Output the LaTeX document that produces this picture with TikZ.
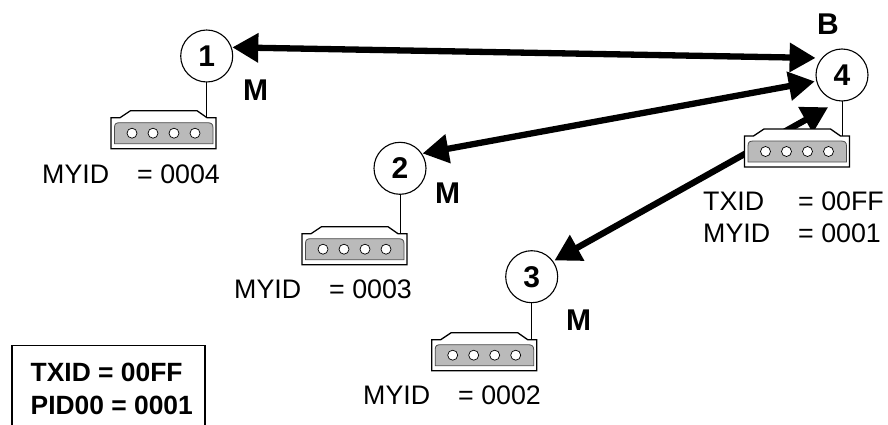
\documentclass[tikz,border=0pt]{standalone}
\usepackage{fontspec}
\setmainfont{Liberation Sans}
\usetikzlibrary{arrows.meta}
\newcommand{\idlabel}[2]{\makebox[95pt][l]{#1}= #2}
\tikzset{
  hub/.style={circle,draw=black,line width=1.1pt,fill=white,minimum size=52pt,inner sep=0pt,font=\fontsize{30}{30}\selectfont\bfseries},
  role/.style={anchor=base west,inner sep=0pt,font=\fontsize{30}{30}\selectfont\bfseries},
  idtext/.style={anchor=base west,inner sep=0pt,font=\fontsize{26.8}{32}\selectfont,align=left},
  boxtext/.style={anchor=base west,inner sep=0pt,font=\fontsize{26.4}{32}\selectfont\bfseries,align=left},
  link/.style={line width=6.3pt,{Triangle[length=26pt,width=28pt]}-{Triangle[length=26pt,width=28pt]}},
  stem/.style={line width=1pt},
  shell/.style={draw=black,line width=1.3pt,fill=white},
  slot/.style={draw=black!70,line width=0.8pt,fill=black!27},
  hole/.style={draw=black,line width=0.7pt,fill=white},
}
\newcommand{\device}[3]{%
  \begin{scope}[shift={(#1,#2)}]
    \path[shell] (0,7) -- (9,7) -- (19.5,0) -- (86,0) -- (96,7) -- (105,7) -- (105,38) -- (0,38) -- cycle;
    \path[slot] (3.5,33) -- (3.5,17) .. controls (3.5,13) and (5,12) .. (9,12) -- (96,12) .. controls (100,12) and (102,13) .. (102,17) -- (102,33) -- cycle;
    \foreach \hx in {21,42,63,84} \path[hole] (\hx,22.5) circle (5pt);
    \coordinate (#3) at (96,7);
  \end{scope}}
\begin{document}
\begin{tikzpicture}[x=1pt,y=-1pt]
\useasboundingbox (0,0) rectangle (888,425);
\node[hub] (n1) at (206.7,56) {1};
\node[hub] (n2) at (400,168.3) {2};
\node[hub] (n3) at (531.7,276.7) {3};
\node[hub] (n4) at (842,75) {4};
% links
\draw[link] ([shift={(0.5,0)}]n1.19) -- ([shift={(-4.4,-2.2)}]n4.146);
\draw[link] ([shift={(0.5,0)}]n2.34) -- ([shift={(-1.5,0)}]n4.194);
\draw[link] ([shift={(1,-1)}]n3.35) -- ([shift={(-3.5,7.8)}]n4.-113);
% devices
\device{111}{110.7}{d1}
\device{302}{226.7}{d2}
\device{431.7}{332.7}{d3}
\device{744.5}{129}{d4}
\draw[stem] (n1) ++(0,26) -- (n1.south |- d1);
\draw[stem] (n2) ++(0,26) -- (n2.south |- d2);
\draw[stem] (n3) ++(0,26) -- (n3.south |- d3);
\draw[stem] (n4) ++(0,26) -- (n4.south |- d4);
% labels
\node[role] (m1) at (243,101) {M};
\node[role] (m2) at (435,203) {M};
\node[role] (m3) at (566,330) {M};
\node[role] (b4) at (817,35) {B};
\node[idtext] (t1) at (42,183) {\idlabel{MYID}{0004}};
\node[idtext] (t2) at (234,298) {\idlabel{MYID}{0003}};
\node[idtext] (t3) at (363,404) {\idlabel{MYID}{0002}};
\node[idtext] (t4a) at (703,210) {\idlabel{TXID}{00FF}};
\node[idtext] (t4b) at (703,242) {\idlabel{MYID}{0001}};
\draw[line width=1.3pt] (12,425) |- (205,345.5) -- (205,425);
\node[boxtext] (k1) at (30.5,381.7) {TXID = 00FF};
\node[boxtext] (k2) at (30.5,414) {PID00 = 0001};
\end{tikzpicture}
\end{document}
